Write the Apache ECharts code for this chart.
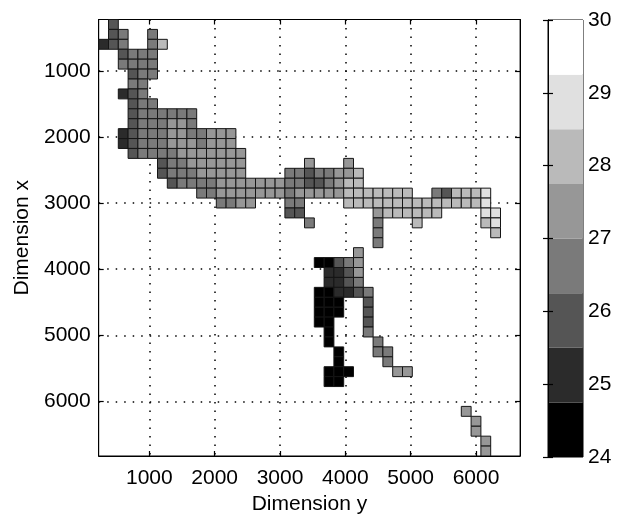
<!DOCTYPE html>
<html lang="en" style="height: 100%">
<head>
<meta charset="utf-8">
<title>Dimension grid</title>
</head>
<body style="height: 100%; margin: 0; background: #fff">
<div id="container" style="height: 100%"></div>

<script type="text/javascript" src="https://cdn.jsdelivr.net/npm/echarts@6/dist/echarts.min.js"></script>

<script type="text/javascript">
var dom = document.getElementById('container');
var myChart = echarts.init(dom, null, {width: 625, height: 517});

// grid spacing of the measurement cells (same unit as the axes)
const cellStep = 150;

// tick values
const xTicks = [1000, 2000, 3000, 4000, 5000, 6000];
const yTicks = [1000, 2000, 3000, 4000, 5000, 6000];
const barTicks = [24, 25, 26, 27, 28, 29, 30];

// colour classes of the colour bar (8 steps from 24 to 30)
const levelEdges = [24, 24.75, 25.5, 26.25, 27, 27.75, 28.5, 29.25, 30];
const levelColors = ['#000000', '#2b2b2b', '#555555', '#7a7a7a', '#979797', '#bababa', '#e0e0e0', '#ffffff'];

// each run: [Dimension x of the row, Dimension y of the first cell, values of consecutive cells]
const northWestArm = [
    [300, 450, [25.9]],
    [450, 450, [25.9, 26.6]], [450, 1050, [26.6]],
    [600, 300, [25.1, 25.9, 26.6]], [600, 1050, [26.6, 28.1]],
    [750, 600, [25.9, 26.6, 26.6, 26.6]],
    [900, 600, [26.6, 26.6, 26.6, 26.6]],
    [1050, 750, [25.9, 26.6, 26.6]],
    [1200, 750, [26.6, 26.6]],
    [1350, 600, [25.1, 25.9, 26.6]],
    [1500, 750, [25.9, 26.6, 26.6]],
    [1650, 750, [25.9, 26.6, 26.6, 26.6, 26.6, 26.6, 26.6]],
    [1800, 750, [25.9, 26.6, 26.6, 26.6, 27.4, 27.4, 26.6]],
    [1950, 600, [25.1, 25.9, 26.6, 26.6, 26.6, 27.4, 27.4, 26.6, 26.6, 27.4, 27.4, 27.4]],
    [2100, 600, [25.1, 25.9, 26.6, 26.6, 26.6, 27.4, 27.4, 27.4, 26.6, 27.4, 27.4, 27.4]],
    [2250, 750, [25.9, 26.6, 26.6, 26.6, 26.6, 27.4, 27.4, 27.4, 27.4, 27.4, 27.4, 27.4]],
    [2400, 1200, [25.9, 26.6, 26.6, 27.4, 27.4, 27.4, 27.4, 27.4, 27.4]],
    [2550, 1200, [25.9, 26.6, 26.6, 26.6, 27.4, 27.4, 27.4, 27.4, 27.4]]
];

const eastBand = [
    [2400, 3450, [27.4]], [2400, 4050, [27.4]],
    [2550, 3150, [26.6, 26.6, 25.9, 26.6, 26.6, 27.4, 27.4, 28.1]],
    [2700, 1350, [25.9, 26.6, 26.6, 26.6, 26.6, 27.4, 27.4, 27.4, 27.4, 27.4, 27.4, 27.4,
                  26.6, 26.6, 25.9, 25.9, 26.6, 27.4, 28.1, 28.1]],
    [2850, 1800, [26.6, 26.6, 27.4, 27.4, 27.4, 27.4, 27.4, 27.4, 27.4, 26.6, 27.4, 27.4,
                  27.4, 27.4, 27.4, 28.1, 28.1, 28.1, 28.1, 28.1, 28.1, 28.1]],
    [2850, 5400, [26.6, 25.9, 28.1, 28.1, 28.1, 28.9]],
    [3000, 2100, [26.6, 26.6, 27.4, 27.4]],
    [3000, 3150, [26.6, 26.6]],
    [3000, 4050, [28.1, 28.1, 28.1, 28.1, 28.1, 28.1, 28.1, 28.1, 28.1, 28.1, 28.1, 28.1, 28.1, 28.1, 28.9]],
    [3150, 3150, [25.9, 25.9]],
    [3150, 4500, [27.4, 28.1, 28.1, 28.1, 28.1, 28.1, 28.1]],
    [3150, 6150, [28.9, 28.9]],
    [3300, 3450, [26.6]], [3300, 4500, [26.6]], [3300, 5100, [28.1]], [3300, 6150, [28.1, 28.9]],
    [3450, 4500, [26.6]], [3450, 6300, [28.1]],
    [3600, 4500, [26.6]]
];

const southCluster = [
    [3750, 4200, [27.4]],
    [3900, 3600, [24.4, 24.4, 25.9, 26.6, 27.4]],
    [4050, 3750, [25.1, 25.1, 25.9, 27.4]],
    [4200, 3750, [25.1, 25.1, 25.9, 26.6]],
    [4350, 3600, [24.4, 24.4, 25.1, 25.1, 25.9, 26.6]],
    [4500, 3600, [24.4, 24.4, 24.4]], [4500, 4350, [25.9]],
    [4650, 3600, [24.4, 24.4, 24.4]], [4650, 4350, [25.9]],
    [4800, 3600, [24.4, 24.4]], [4800, 4350, [25.9]],
    [4950, 3750, [24.4]], [4950, 4350, [26.6]],
    [5100, 3750, [24.4]], [5100, 4500, [26.6]],
    [5250, 3900, [24.4]], [5250, 4500, [26.6, 26.6]],
    [5400, 3900, [24.4]], [5400, 4650, [26.6]],
    [5550, 3750, [24.4, 24.4, 24.4]], [5550, 4800, [27.4, 27.4]],
    [5700, 3750, [24.4, 24.4]]
];

const southEastTail = [
    [6150, 5850, [27.4]],
    [6300, 6000, [27.4]],
    [6450, 6000, [27.4]],
    [6600, 6150, [27.4]],
    [6750, 6150, [27.4]]
];

// expand runs into [Dimension y, Dimension x, value] cells
var cells = [];
[northWestArm, eastBand, southCluster, southEastTail].forEach(function (runs) {
    runs.forEach(function (run) {
        run[2].forEach(function (v, i) {
            cells.push([run[1] + i * cellStep, run[0], v]);
        });
    });
});

var bands = [];
for (var i = 0; i < levelColors.length; i++) {
    bands.push([levelEdges[i], levelEdges[i + 1], i]);
}

var font = 'Liberation Sans, Arial, sans-serif';
var half = cellStep / 2;

function renderCell(params, api) {
    var x = api.value(0), y = api.value(1);
    var p0 = api.coord([x - half, y - half]);
    var p1 = api.coord([x + half, y + half]);
    return {
        type: 'rect',
        shape: {
            x: Math.min(p0[0], p1[0]),
            y: Math.min(p0[1], p1[1]),
            width: Math.abs(p1[0] - p0[0]),
            height: Math.abs(p1[1] - p0[1])
        },
        style: {fill: api.visual('color'), stroke: '#151515', lineWidth: 1}
    };
}

function renderBand(params, api) {
    var p0 = api.coord([0, api.value(0)]);
    var p1 = api.coord([1, api.value(1)]);
    return {
        type: 'rect',
        shape: {x: p0[0], y: p1[1], width: p1[0] - p0[0], height: p0[1] - p1[1]},
        style: {fill: levelColors[api.value(2)]}
    };
}

function plain(v) {
    return String(v);
}

var dotted = {show: true, lineStyle: {color: '#000', width: 1.5, type: [1.5, 7]}};
var inTick = {show: true, inside: true, length: 5, lineStyle: {color: '#000', width: 1.2}};
var labelStyle = {color: '#000', fontSize: 21, fontFamily: font};

var option = {
    animation: false,
    grid: [
        {left: 98.7, top: 19.5, width: 421.4, height: 436.5, show: true, borderColor: '#000', borderWidth: 1,
         outerBoundsMode: 'none'},
        {left: 548, top: 20, width: 35, height: 437, show: true, borderColor: '#000', borderWidth: 1,
         outerBoundsMode: 'none'}
    ],
    visualMap: {
        type: 'piecewise',
        show: false,
        seriesIndex: 0,
        dimension: 2,
        pieces: levelColors.map(function (c, i) {
            return {gte: levelEdges[i], lt: levelEdges[i + 1], color: c};
        })
    },
    xAxis: [
        {
            type: 'value', gridIndex: 0, min: 225, max: 6675, position: 'bottom',
            name: 'Dimension y', nameLocation: 'middle', nameGap: 37,
            nameTextStyle: labelStyle,
            axisLine: {show: true, lineStyle: {color: '#000'}},
            axisTick: Object.assign({customValues: xTicks}, inTick),
            axisLabel: Object.assign({customValues: xTicks, margin: 12, formatter: plain}, labelStyle),
            splitLine: dotted
        },
        {
            type: 'value', gridIndex: 0, min: 225, max: 6675, position: 'top',
            axisLine: {show: true, lineStyle: {color: '#000'}},
            axisTick: Object.assign({customValues: xTicks}, inTick),
            axisLabel: {show: false},
            splitLine: {show: false}
        },
        {type: 'value', gridIndex: 1, min: 0, max: 1, show: false, splitLine: {show: false}}
    ],
    yAxis: [
        {
            type: 'value', gridIndex: 0, min: 225, max: 6825, inverse: true, position: 'left',
            name: 'Dimension x', nameLocation: 'middle', nameGap: 57,
            nameTextStyle: labelStyle,
            axisLine: {show: true, lineStyle: {color: '#000'}},
            axisTick: Object.assign({customValues: yTicks}, inTick),
            axisLabel: Object.assign({customValues: yTicks, margin: 8, formatter: plain}, labelStyle),
            splitLine: dotted
        },
        {
            type: 'value', gridIndex: 0, min: 225, max: 6825, inverse: true, position: 'right',
            axisLine: {show: true, lineStyle: {color: '#000'}},
            axisTick: Object.assign({customValues: yTicks}, inTick),
            axisLabel: {show: false},
            splitLine: {show: false}
        },
        {
            type: 'value', gridIndex: 1, min: 24, max: 30, interval: 1, position: 'right', z: 5,
            axisLine: {show: true, lineStyle: {color: '#000'}},
            axisTick: Object.assign({customValues: barTicks}, inTick),
            axisLabel: Object.assign({customValues: barTicks, margin: 5, formatter: plain}, labelStyle),
            splitLine: {show: false}
        },
        {
            type: 'value', gridIndex: 1, min: 24, max: 30, interval: 1, position: 'left', z: 5,
            axisLine: {show: true, lineStyle: {color: '#000'}},
            axisTick: Object.assign({customValues: barTicks}, inTick),
            axisLabel: {show: false},
            splitLine: {show: false}
        }
    ],
    series: [
        {
            type: 'custom',
            xAxisIndex: 0,
            yAxisIndex: 0,
            renderItem: renderCell,
            encode: {x: 0, y: 1},
            clip: true,
            data: cells
        },
        {
            type: 'custom',
            xAxisIndex: 2,
            yAxisIndex: 2,
            renderItem: renderBand,
            encode: {y: [0, 1]},
            data: bands,
            z: 1
        }
    ]
};

myChart.setOption(option);
window.addEventListener('resize', myChart.resize);
</script>
</body>
</html>
